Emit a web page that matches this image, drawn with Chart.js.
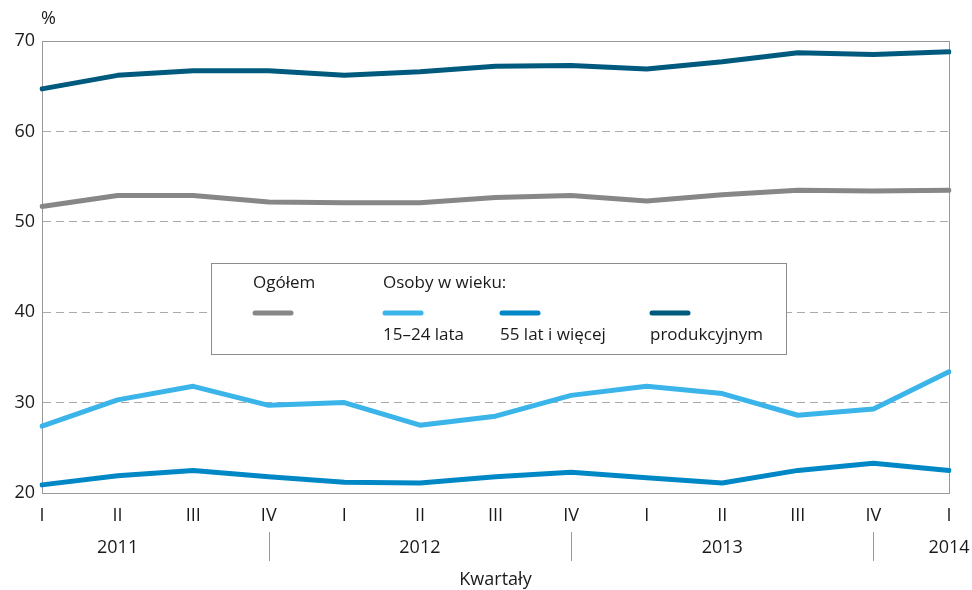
<!DOCTYPE html>
<html>
<head>
<meta charset="utf-8">
<script src="https://cdn.jsdelivr.net/npm/chart.js@4"></script>
<style>
  html, body { margin: 0; padding: 0; background: #fff; }
  #wrap { position: relative; width: 972px; height: 590px; }
</style>
</head>
<body>
<div id="wrap"><canvas id="chart" width="972" height="590"></canvas></div>
<script>
const kwartaly = ['I', 'II', 'III', 'IV', 'I', 'II', 'III', 'IV', 'I', 'II', 'III', 'IV', 'I'];
const lata = ['2011', '2012', '2013', '2014'];
const lataIdx = [1, 5, 9, 12];
const separatory = [3, 7, 11];

const ogolem       = [51.7, 52.9, 52.9, 52.2, 52.1, 52.1, 52.7, 52.9, 52.3, 53.0, 53.5, 53.4, 53.5];
const mlodzi       = [27.4, 30.3, 31.8, 29.7, 30.0, 27.5, 28.5, 30.8, 31.8, 31.0, 28.6, 29.3, 33.4];
const starsi       = [20.9, 21.9, 22.5, 21.8, 21.2, 21.1, 21.8, 22.3, 21.7, 21.1, 22.5, 23.3, 22.5];
const produkcyjnym = [64.7, 66.2, 66.7, 66.7, 66.2, 66.6, 67.2, 67.3, 66.9, 67.7, 68.7, 68.5, 68.8];

const FONT = '"Open Sans", "Noto Sans", sans-serif';
const TXT = '#1a1a1a';

const serie = [
  { label: 'Ogółem',          data: ogolem,       color: '#878787' },
  { label: '15–24 lata',      data: mlodzi,       color: '#3ab4e9' },
  { label: '55 lat i więcej', data: starsi,       color: '#0088c6' },
  { label: 'produkcyjnym',    data: produkcyjnym, color: '#005a7d' }
];

// rysuje %, lata, separatory, tytuł osi i legendę w ramce
const dodatki = {
  id: 'dodatki',
  afterDraw(chart) {
    const { ctx, chartArea: a, scales } = chart;
    const x = scales.x;
    ctx.save();
    ctx.fillStyle = TXT;
    ctx.font = '18px ' + FONT;
    ctx.textBaseline = 'middle';
    ctx.textAlign = 'left';
    ctx.fillText('%', a.left - 1, a.top - 22);

    ctx.textAlign = 'center';
    lata.forEach((r, i) => ctx.fillText(r, x.getPixelForValue(lataIdx[i]), 548));
    ctx.strokeStyle = '#999';
    ctx.lineWidth = 1;
    separatory.forEach(i => {
      const px = Math.round(x.getPixelForValue(i)) + 0.5;
      ctx.beginPath(); ctx.moveTo(px, 532); ctx.lineTo(px, 561); ctx.stroke();
    });
    ctx.fillText('Kwartały', (a.left + a.right) / 2, 580);

    // legenda
    const bx = 211.5, by = 263.5, bw = 575, bh = 91;
    ctx.fillStyle = '#fff';
    ctx.fillRect(bx, by, bw, bh);
    ctx.strokeStyle = '#8c8c8c';
    ctx.strokeRect(bx, by, bw, bh);
    ctx.fillStyle = TXT;
    ctx.font = '17px ' + FONT;
    ctx.textAlign = 'left';
    ctx.fillText('Ogółem', 253, 283);
    ctx.fillText('Osoby w wieku:', 383, 283);
    const poz = [253, 383, 500, 650];
    chart.data.datasets.forEach((d, i) => {
      ctx.strokeStyle = d.borderColor;
      ctx.lineWidth = 5;
      ctx.lineCap = 'round';
      ctx.beginPath(); ctx.moveTo(poz[i] + 2, 313); ctx.lineTo(poz[i] + 38, 313); ctx.stroke();
      if (i > 0) ctx.fillText(d.label, poz[i], 335);
    });
    ctx.restore();
  }
};

new Chart(document.getElementById('chart'), {
  type: 'line',
  data: {
    labels: kwartaly,
    datasets: serie.map(s => ({
      label: s.label,
      data: s.data,
      borderColor: s.color,
      backgroundColor: s.color,
      borderWidth: 5,
      pointRadius: 0,
      tension: 0,
      borderCapStyle: 'round',
      borderJoinStyle: 'round'
    }))
  },
  options: {
    responsive: false,
    animation: false,
    layout: { padding: { top: 41, right: 23, left: 0, bottom: 0 } },
    plugins: { legend: { display: false }, tooltip: { enabled: false } },
    scales: {
      x: {
        offset: false,
        grid: { display: false, drawTicks: false },
        border: { display: true, color: '#999', width: 1 },
        ticks: { color: TXT, font: { family: FONT, size: 18 }, padding: 12, maxRotation: 0, autoSkip: false },
        afterFit: s => { s.height = 97; }
      },
      y: {
        min: 20, max: 70,
        ticks: { stepSize: 10, color: TXT, font: { family: FONT, size: 18 }, padding: 7 },
        grid: { drawTicks: false, color: '#aaa', lineWidth: 1 },
        border: { display: true, color: '#999', width: 1, dash: [8, 5] },
        afterFit: s => { s.width = 42; }
      }
    }
  },
  plugins: [{
    id: 'ramka',
    beforeDatasetsDraw(chart) {
      const { ctx, chartArea: a } = chart;
      ctx.save();
      ctx.strokeStyle = '#999';
      ctx.lineWidth = 1;
      ctx.strokeRect(Math.round(a.left) + 0.5, Math.round(a.top) + 0.5, Math.round(a.right - a.left), Math.round(a.bottom - a.top));
      ctx.restore();
    }
  }, dodatki]
});
</script>
</body>
</html>
